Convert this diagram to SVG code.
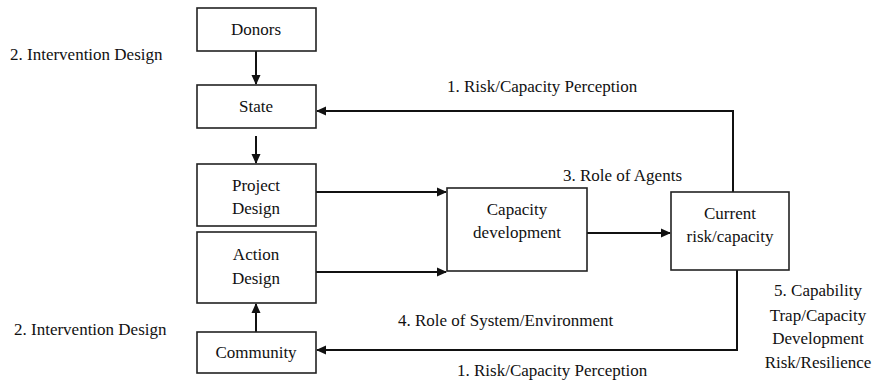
<svg xmlns="http://www.w3.org/2000/svg" width="873" height="382" viewBox="0 0 873 382">
<style>
.box{fill:#fff;stroke:#222;stroke-width:1.6}
.t{font-family:'Liberation Serif','DejaVu Serif',serif;font-size:17px;fill:#111}
.c{text-anchor:middle}
.ln{fill:none;stroke:#111;stroke-width:2}
</style>
<defs>
<marker id="ah" markerWidth="10" markerHeight="10" refX="9" refY="5" orient="auto" markerUnits="userSpaceOnUse">
<path d="M0,0.5 L10,5 L0,9.5 Z" fill="#111"/>
</marker>
</defs>
<rect width="873" height="382" fill="#fff"/>
<g id="connectors">
<line class="ln" x1="256" y1="51" x2="256" y2="84" marker-end="url(#ah)"/>
<line class="ln" x1="256" y1="136" x2="256" y2="163" marker-end="url(#ah)"/>
<line class="ln" x1="256" y1="332" x2="256" y2="304" marker-end="url(#ah)"/>
<line class="ln" x1="316" y1="192" x2="446" y2="192" marker-end="url(#ah)"/>
<line class="ln" x1="316" y1="272" x2="446" y2="272" marker-end="url(#ah)"/>
<line class="ln" x1="587" y1="233" x2="670" y2="233" marker-end="url(#ah)"/>
<polyline class="ln" points="733,192 733,111 317,111" marker-end="url(#ah)"/>
<polyline class="ln" points="737,270 737,350 317,350" marker-end="url(#ah)"/>
</g>
<g id="donors"><rect class="box" x="197" y="8" width="119" height="43"/><text class="t c" x="256" y="35">Donors</text></g>
<g id="state"><rect class="box" x="197" y="85" width="119" height="43"/><text class="t c" x="256" y="112">State</text></g>
<g id="project-design"><rect class="box" x="197" y="164" width="119" height="62"/><text class="t c" x="256" y="191">Project</text><text class="t c" x="256" y="214">Design</text></g>
<g id="action-design"><rect class="box" x="197" y="232" width="119" height="71"/><text class="t c" x="256" y="260">Action</text><text class="t c" x="256" y="284">Design</text></g>
<g id="community"><rect class="box" x="197" y="332" width="119" height="41"/><text class="t c" x="256" y="358">Community</text></g>
<g id="capacity-development"><rect class="box" x="447" y="188" width="140" height="83"/><text class="t c" x="517" y="215">Capacity</text><text class="t c" x="517" y="238">development</text></g>
<g id="current-risk"><rect class="box" x="671" y="192" width="118" height="78"/><text class="t c" x="730" y="219">Current</text><text class="t c" x="730" y="242">risk/capacity</text></g>
<g id="labels">
<text class="t" x="10" y="60">2. Intervention Design</text>
<text class="t" x="14" y="335">2. Intervention Design</text>
<text class="t" x="447" y="92">1. Risk/Capacity Perception</text>
<text class="t" x="563" y="181">3. Role of Agents</text>
<text class="t" x="398" y="326">4. Role of System/Environment</text>
<text class="t" x="457" y="376">1. Risk/Capacity Perception</text>
<text class="t c" x="818" y="296">5. Capability</text>
<text class="t c" x="818" y="321">Trap/Capacity</text>
<text class="t c" x="818" y="344">Development</text>
<text class="t c" x="818" y="368">Risk/Resilience</text>
</g>
</svg>
